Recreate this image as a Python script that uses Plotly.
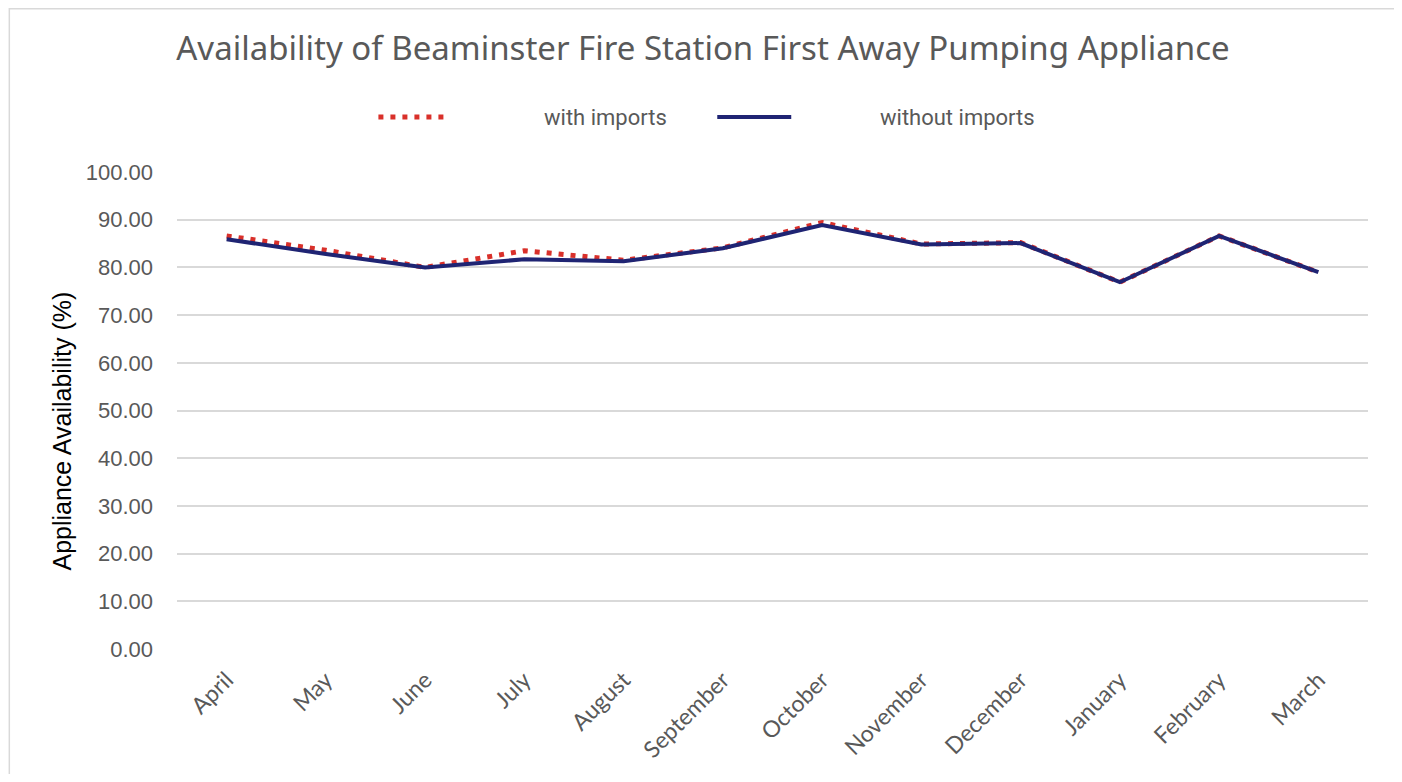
import plotly.graph_objects as go

months = ["April", "May", "June", "July", "August", "September", "October",
          "November", "December", "January", "February", "March"]
with_imports = [86.6, 83.6, 80.0, 83.5, 81.5, 84.1, 89.4, 84.9, 85.2, 76.9, 86.6, 79.0]
without_imports = [85.9, 82.8, 80.0, 81.7, 81.3, 84.0, 88.9, 84.8, 85.1, 76.9, 86.6, 79.0]
y_ticks = [0, 10, 20, 30, 40, 50, 60, 70, 80, 90, 100]

RED = "#D9302A"
NAVY = "#1F2473"
GRAY = "#595959"

OFF = 8  # page body margin
W, H = 1402 - OFF, 782 - 2 * OFF
# plot area in reference (screen) pixels: x 176.5..1368, y 172..649
L = 176.5 - OFF
R = W - (1368 - OFF)
T = 172 - OFF
B = H - (649 - OFF)
PW, PH = W - L - R, H - T - B

def px(x):
    return (x - OFF - L) / PW

def py(y):
    return (H - B - (y - OFF)) / PH

fig = go.Figure()
fig.add_trace(go.Scatter(x=months, y=with_imports, mode="lines", name="with imports",
                         line=dict(color=RED, width=5, dash="5px,7px"), showlegend=False))
fig.add_trace(go.Scatter(x=months, y=without_imports, mode="lines", name="without imports",
                         line=dict(color=NAVY, width=4), showlegend=False))

# custom legend
fig.add_shape(type="line", xref="paper", yref="paper", x0=px(378), x1=px(446), y0=py(117), y1=py(117),
              line=dict(color=RED, width=5, dash="5px,7px"))
fig.add_shape(type="line", xref="paper", yref="paper", x0=px(717), x1=px(791), y0=py(117), y1=py(117),
              line=dict(color=NAVY, width=4))
fig.add_annotation(text="with imports", xref="paper", yref="paper", x=px(542), y=py(117),
                   xanchor="left", yanchor="middle", showarrow=False,
                   font=dict(family="Roboto", size=22, color=GRAY))
fig.add_annotation(text="without imports", xref="paper", yref="paper", x=px(878), y=py(117),
                   xanchor="left", yanchor="middle", showarrow=False,
                   font=dict(family="Roboto", size=22, color=GRAY))

# y-axis title
fig.add_annotation(text="Appliance Availability (%)", xref="paper", yref="paper",
                   x=px(61), y=py(431), xanchor="center", yanchor="middle", textangle=-90,
                   showarrow=False, font=dict(family="Liberation Sans", size=25, color="black"))

# outer border
fig.add_shape(type="rect", xref="paper", yref="paper", x0=px(OFF + 0.75), x1=px(1399),
              y0=py(800), y1=py(OFF + 0.75),
              line=dict(color="#d9d9d9", width=1.5), fillcolor="rgba(0,0,0,0)", layer="below")

fig.update_layout(
    width=W, height=H,
    margin=dict(l=L, r=R, t=T, b=B),
    paper_bgcolor="white", plot_bgcolor="white",
    title=dict(text="Availability of Beaminster Fire Station First Away Pumping Appliance",
               xref="container", x=(703 - OFF) / W, xanchor="center",
               yref="container", y=1 - (48 - OFF) / H, yanchor="middle",
               font=dict(family="Noto Sans", size=33, color=GRAY)),
    xaxis=dict(type="category", categoryorder="array", categoryarray=months,
               range=[-0.5, 11.5], showgrid=False, zeroline=False, showline=False,
               tickangle=-45, ticks="", ticklabelstandoff=12,
               tickfont=dict(family="Lato", size=23, color=GRAY)),
    yaxis=dict(range=[0, 100], tickvals=y_ticks, tickformat=".2f",
               showgrid=True, gridcolor="#d9d9d9", gridwidth=1.5, zeroline=False, showline=False,
               ticks="", ticklabelstandoff=23,
               tickfont=dict(family="Liberation Sans", size=22, color=GRAY)),
)

fig.write_html("out.html")
